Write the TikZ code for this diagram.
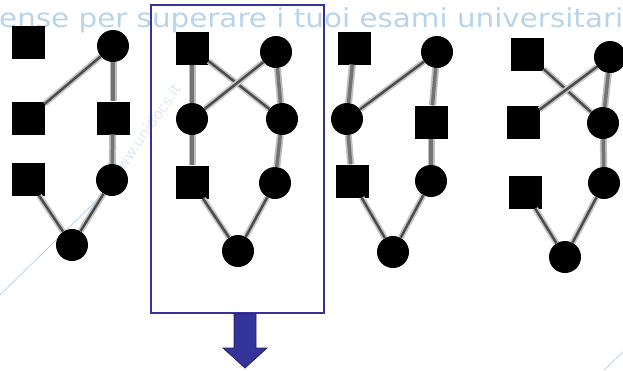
\documentclass[tikz,border=0pt]{standalone}
\usepackage{fontspec}
\newfontfamily\wmfont{DejaVu Sans}
\usepackage{tikz}
\definecolor{wmblue}{RGB}{184,212,235}
\definecolor{wmpale}{RGB}{222,234,245}
\definecolor{framblue}{RGB}{51,51,153}
\tikzset{
  sq/.style={fill=black,minimum size=33pt,inner sep=0pt},
  dot/.style={circle,fill=black,minimum size=32pt,inner sep=0pt},
  vert/.style={preaction={draw,line width=7pt,black!25},line width=3.5pt,black!55},
  diag/.style={preaction={draw,line width=6pt,black!22},line width=2.5pt,black!70}
}

\begin{document}
\begin{tikzpicture}[x=1pt,y=-1pt]
\useasboundingbox (0,0) rectangle (623,370);

% watermark
\node[anchor=base west,inner sep=0pt,text=wmblue] (wmtext) at (-1,27)
  {\resizebox{624pt}{\height}{\wmfont\fontsize{26}{30}\selectfont ense per superare i tuoi esami universitari}};
\node[rotate=55,text=wmpale,inner sep=0pt] (wmsite) at (145,132) {\wmfont\fontsize{15}{18}\selectfont www.unidocs.it};
\coordinate (wl1) at (0,295);
\coordinate (wl2) at (100,197);
\coordinate (wl3) at (604,370);
\coordinate (wl4) at (623,352);
\draw[wmblue,line width=0.8pt] (wl1) -- (wl2);
\draw[wmblue,line width=0.8pt] (wl3) -- (wl4);

% first graph
\node[sq] (g1a) at (28,42) {};
\node[dot] (g1b) at (113,46) {};
\node[sq] (g1c) at (28,118) {};
\node[sq] (g1d) at (113,118) {};
\node[sq] (g1e) at (28,179) {};
\node[dot] (g1f) at (112,180) {};
\node[dot] (g1g) at (72,245) {};
\draw[vert] (g1b) -- (g1d);
\draw[vert] (g1d) -- (g1f);
\draw[diag] (g1b) -- (g1c);
\draw[diag] (g1e) -- (g1g);
\draw[diag] (g1f) -- (g1g);

% second graph
\node[sq] (g2a) at (192,48) {};
\node[dot] (g2b) at (276,52) {};
\node[dot] (g2c) at (192,119) {};
\node[dot] (g2d) at (282,119) {};
\node[sq] (g2e) at (192,182) {};
\node[dot] (g2f) at (275,183) {};
\node[dot] (g2g) at (238,251) {};
\draw[vert] (g2a) -- (g2c);
\draw[vert] (g2c) -- (g2e);
\draw[vert] (g2b) -- (g2d);
\draw[vert] (g2d) -- (g2f);
\draw[diag] (g2a) -- (g2d);
\draw[diag] (g2b) -- (g2c);
\draw[diag] (g2e) -- (g2g);
\draw[diag] (g2f) -- (g2g);

% third graph
\node[sq] (g3a) at (354,48) {};
\node[dot] (g3b) at (437,52) {};
\node[dot] (g3c) at (347,119) {};
\node[sq] (g3d) at (431,122) {};
\node[sq] (g3e) at (352,181) {};
\node[dot] (g3f) at (431,181) {};
\node[dot] (g3g) at (393,252) {};
\draw[vert] (g3a) -- (g3c);
\draw[vert] (g3c) -- (g3e);
\draw[vert] (g3b) -- (g3d);
\draw[vert] (g3d) -- (g3f);
\draw[diag] (g3b) -- (g3c);
\draw[diag] (g3e) -- (g3g);
\draw[diag] (g3f) -- (g3g);

% fourth graph
\node[sq] (g4a) at (527,54) {};
\node[dot] (g4b) at (610,57) {};
\node[sq] (g4c) at (523,122) {};
\node[dot] (g4d) at (603,123) {};
\node[sq] (g4e) at (525,192) {};
\node[dot] (g4f) at (604,183) {};
\node[dot] (g4g) at (565,257) {};
\draw[vert] (g4b) -- (g4d);
\draw[vert] (g4d) -- (g4f);
\draw[diag] (g4a) -- (g4d);
\draw[diag] (g4b) -- (g4c);
\draw[diag] (g4e) -- (g4g);
\draw[diag] (g4f) -- (g4g);

% frame and arrow
\draw[framblue,line width=1.2pt] (151,5) rectangle (324,313);
\draw[fill=framblue,draw=framblue!70!black,line width=0.8pt]
  (234,314) -- (256,314) -- (256,348) -- (267,348) -- (245,368)
  -- (223,348) -- (234,348) -- cycle;

\end{tikzpicture}
\end{document}
